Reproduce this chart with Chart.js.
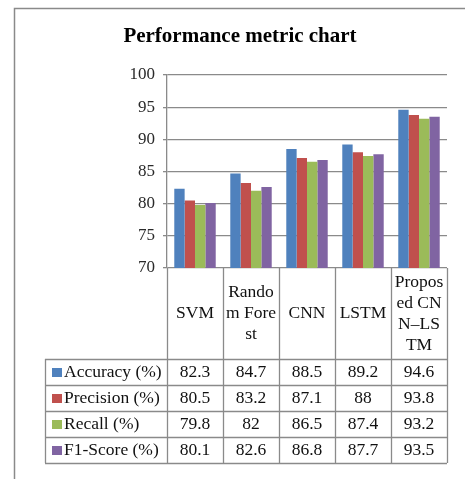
<!DOCTYPE html>
<html>
<head>
<meta charset="utf-8">
<script src="https://cdn.jsdelivr.net/npm/chart.js@4/dist/chart.umd.min.js"></script>
<style>
  html, body { margin: 0; padding: 0; background: #fff; }
  canvas { display: block; }
</style>
</head>
<body>
<canvas id="chart" width="465" height="479"></canvas>
<script>
const categories = ["SVM", "Random Forest", "CNN", "LSTM", "Proposed CNN–LSTM"];
// how the category names wrap in the table header cells
const categoryLines = [["SVM"], ["Rando", "m Fore", "st"], ["CNN"], ["LSTM"], ["Propos", "ed CN", "N–LS", "TM"]];
const seriesNames = ["Accuracy (%)", "Precision (%)", "Recall (%)", "F1-Score (%)"];
const accuracy = [82.3, 84.7, 88.5, 89.2, 94.6];
const precision = [80.5, 83.2, 87.1, 88, 93.8];
const recall = [79.8, 82, 86.5, 87.4, 93.2];
const f1Score = [80.1, 82.6, 86.8, 87.7, 93.5];
const yTicks = [70, 75, 80, 85, 90, 95, 100];

const colors = ["#4F81BD", "#C0504D", "#9BBB59", "#8064A2"];
const seriesValues = [accuracy, precision, recall, f1Score];

const serif = "'Liberation Serif', 'Times New Roman', serif";
const lineGray = "#8a8a8a";

// frame, title and the data table under the plot
const tablePlugin = {
  id: "dataTable",
  beforeDraw(chart) {
    const ctx = chart.ctx;
    ctx.save();
    ctx.strokeStyle = lineGray;
    ctx.lineWidth = 1.5;
    ctx.beginPath();
    ctx.moveTo(14.5, 479);
    ctx.lineTo(14.5, 8.5);
    ctx.lineTo(465, 8.5);
    ctx.stroke();

    ctx.fillStyle = "#000";
    ctx.font = "bold 21px " + serif;
    ctx.textAlign = "center";
    ctx.textBaseline = "middle";
    ctx.fillText("Performance metric chart", 240, 37);
    ctx.restore();
  },
  afterDraw(chart) {
    const ctx = chart.ctx;
    const area = chart.chartArea;
    const x = chart.scales.x;
    const n = categories.length;
    const colW = (area.right - area.left) / n;
    const headerH = 91;
    const rowH = 26;
    const tableLeft = 45;
    const headTop = area.bottom;
    const rowsTop = headTop + headerH;
    const tableBottom = rowsTop + rowH * seriesNames.length;

    ctx.save();
    ctx.strokeStyle = lineGray;
    ctx.lineWidth = 1.3;
    ctx.beginPath();
    for (let i = 0; i <= n; i++) {
      const px = Math.round(area.left + colW * i) + 0.5;
      ctx.moveTo(px, headTop);
      ctx.lineTo(px, tableBottom);
    }
    ctx.moveTo(tableLeft + 0.5, rowsTop);
    ctx.lineTo(tableLeft + 0.5, tableBottom);
    for (let r = 0; r <= seriesNames.length; r++) {
      const py = Math.round(rowsTop + rowH * r) + 0.5;
      ctx.moveTo(tableLeft, py);
      ctx.lineTo(area.right, py);
    }
    ctx.stroke();

    ctx.fillStyle = "#111";
    ctx.font = "17.5px " + serif;
    ctx.textAlign = "center";
    ctx.textBaseline = "middle";

    // header cells
    categoryLines.forEach((lines, i) => {
      const cx = x.getPixelForValue(i);
      const lh = 21;
      const startY = headTop + headerH / 2 - (lines.length - 1) * lh / 2;
      lines.forEach((t, k) => ctx.fillText(t, cx, startY + k * lh));
    });

    // rows
    seriesNames.forEach((name, r) => {
      const cy = rowsTop + rowH * r + rowH / 2;
      ctx.fillStyle = colors[r];
      ctx.fillRect(52, cy - 4, 10, 9);
      ctx.fillStyle = "#111";
      ctx.textAlign = "left";
      ctx.fillText(name, 64, cy);
      ctx.textAlign = "center";
      seriesValues[r].forEach((v, i) => {
        ctx.fillText(String(v), x.getPixelForValue(i), cy);
      });
    });
    ctx.restore();
  }
};

new Chart(document.getElementById("chart"), {
  type: "bar",
  data: {
    labels: categories,
    datasets: seriesNames.map((name, i) => ({
      label: name,
      data: seriesValues[i],
      backgroundColor: colors[i],
      borderWidth: 0,
      categoryPercentage: 0.74,
      barPercentage: 1.0
    }))
  },
  options: {
    responsive: false,
    animation: false,
    layout: {
      padding: { left: 14, right: 18, top: 75, bottom: 211 }
    },
    plugins: {
      legend: { display: false },
      tooltip: { enabled: false },
      title: { display: false }
    },
    scales: {
      x: {
        display: false
      },
      y: {
        min: yTicks[0],
        max: yTicks[yTicks.length - 1],
        afterFit: (scale) => { scale.width = 153; },
        afterBuildTicks: (scale) => { scale.ticks = yTicks.map(v => ({ value: v })); },
        ticks: {
          color: "#2a2a2a",
          padding: 8,
          font: { family: serif, size: 17 }
        },
        grid: {
          color: lineGray,
          lineWidth: 1.3,
          tickLength: 4
        },
        border: { color: lineGray, width: 1.3 }
      }
    }
  },
  plugins: [tablePlugin]
});
</script>
</body>
</html>
